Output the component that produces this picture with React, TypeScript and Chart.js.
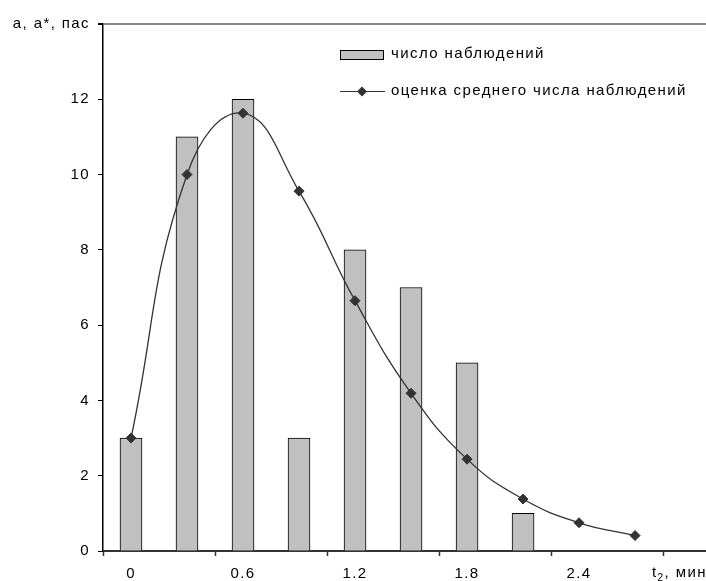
import React, { useEffect, useRef } from 'react';
import { Chart, registerables } from 'chart.js';

Chart.register(...registerables);

const categories = [0, 0.3, 0.6, 0.9, 1.2, 1.5, 1.8, 2.1, 2.4, 2.7];
const observedCounts: (number | null)[] = [3, 11, 12, 3, 8, 7, 5, 1, null, null];
const estimatedMean = [3.0, 10.0, 11.63, 9.56, 6.65, 4.19, 2.44, 1.38, 0.75, 0.41];

const xLabelValues = [0, 0.6, 1.2, 1.8, 2.4];
const xLabelTexts = ['0', '0.6', '1.2', '1.8', '2.4'];
const xDividerValues = [-0.15, 0.45, 1.05, 1.65, 2.25, 2.85];
const yTickValues = [0, 2, 4, 6, 8, 10, 12, 14];

const yAxisTitle = 'а, а*, пас';
const xAxisTitleMain = 't';
const xAxisTitleSub = '2';
const xAxisTitleRest = ', мин';
const legendLabels = ['число наблюдений', 'оценка среднего числа наблюдений'];

const FONT = '"Liberation Sans", Arial, sans-serif';
const SPACING = '1.4px';
const near = (a: number, b: number) => Math.abs(a - b) < 1e-6;

export default function App() {
  const canvasRef = useRef<HTMLCanvasElement | null>(null);

  useEffect(() => {
    const canvas = canvasRef.current;
    if (!canvas) return;

    const overlay = {
      id: 'overlay',
      beforeDraw(chart: any) {
        (chart.ctx as any).letterSpacing = SPACING;
      },
      afterDraw(chart: any) {
        const ctx = chart.ctx as CanvasRenderingContext2D;
        ctx.save();
        (ctx as any).letterSpacing = SPACING;
        // legend
        ctx.fillStyle = '#c0c0c0';
        ctx.fillRect(340.5, 50.5, 43, 9);
        ctx.strokeStyle = '#000';
        ctx.lineWidth = 1;
        ctx.strokeRect(340.5, 50.5, 43, 9);
        ctx.font = '15px ' + FONT;
        ctx.fillStyle = '#000';
        ctx.textBaseline = 'middle';
        ctx.textAlign = 'left';
        ctx.fillText(legendLabels[0], 391, 54);
        ctx.strokeStyle = '#333';
        ctx.beginPath();
        ctx.moveTo(340, 91.5);
        ctx.lineTo(385, 91.5);
        ctx.stroke();
        ctx.fillStyle = '#333';
        ctx.beginPath();
        ctx.moveTo(362, 86.5);
        ctx.lineTo(367, 91.5);
        ctx.lineTo(362, 96.5);
        ctx.lineTo(357, 91.5);
        ctx.closePath();
        ctx.fill();
        ctx.fillStyle = '#000';
        ctx.fillText(legendLabels[1], 391, 91);
        // x axis title
        ctx.textBaseline = 'alphabetic';
        let x = 652;
        ctx.font = '15px ' + FONT;
        ctx.fillText(xAxisTitleMain, x, 577);
        x += ctx.measureText(xAxisTitleMain).width;
        ctx.font = '10px ' + FONT;
        ctx.fillText(xAxisTitleSub, x, 581);
        x += ctx.measureText(xAxisTitleSub).width;
        ctx.font = '15px ' + FONT;
        ctx.fillText(xAxisTitleRest, x, 577);
        ctx.restore();
      },
    };

    const barData = categories
      .map((c, i) => ({ x: c, y: observedCounts[i] }))
      .filter((p) => p.y !== null);
    const lineData = categories.map((c, i) => ({ x: c, y: estimatedMean[i] }));

    const chart = new Chart(canvas, {
      type: 'bar',
      data: {
        datasets: [
          {
            type: 'line',
            label: legendLabels[1],
            data: lineData,
            borderColor: '#333',
            borderWidth: 1.3,
            backgroundColor: '#333',
            pointStyle: 'rectRot',
            pointRadius: 5,
            pointBackgroundColor: '#333',
            pointBorderColor: '#333',
            pointBorderWidth: 1,
            tension: 0.45,
            fill: false,
            order: 0,
          } as any,
          {
            type: 'bar',
            label: legendLabels[0],
            data: barData as any,
            backgroundColor: '#c0c0c0',
            borderColor: '#000',
            borderWidth: 1,
            barThickness: 22,
            order: 1,
          } as any,
        ],
      },
      options: {
        responsive: false,
        animation: false,
        layout: { autoPadding: false, padding: { top: 24, right: 0, left: 0, bottom: 0 } },
        plugins: {
          legend: { display: false },
          tooltip: { enabled: false },
        },
        scales: {
          x: {
            type: 'linear',
            min: -0.15,
            max: 3.08,
            offset: false,
            afterBuildTicks: (axis: any) => {
              axis.ticks = [...xDividerValues, ...xLabelValues]
                .sort((a, b) => a - b)
                .map((v) => ({ value: v }));
            },
            afterFit: (axis: any) => {
              axis.height = 30;
              axis.paddingRight = 0;
              axis.paddingLeft = 0;
            },
            ticks: {
              autoSkip: false,
              maxRotation: 0,
              padding: 9,
              color: '#000',
              font: { family: FONT, size: 15 },
              callback: (value: any) => {
                const i = xLabelValues.findIndex((v) => near(v, Number(value)));
                return i >= 0 ? xLabelTexts[i] : '';
              },
            },
            grid: {
              offset: false,
              drawOnChartArea: false,
              drawTicks: true,
              tickLength: 5,
              tickWidth: 1.5,
              tickColor: (c: any) =>
                c.tick && xDividerValues.some((v) => near(v, c.tick.value)) ? '#333' : 'rgba(0,0,0,0)',
            },
            border: { display: true, color: '#333', width: 2 },
          },
          y: {
            type: 'linear',
            min: 0,
            max: 14,
            afterBuildTicks: (axis: any) => {
              axis.ticks = yTickValues.map((v) => ({ value: v }));
            },
            afterFit: (axis: any) => {
              axis.width = 103;
            },
            ticks: {
              padding: 8,
              color: '#000',
              font: { family: FONT, size: 15 },
              callback: (value: any) => (Number(value) === 14 ? yAxisTitle : String(value)),
            },
            grid: {
              drawOnChartArea: true,
              drawTicks: true,
              tickLength: 5,
              tickColor: '#000',
              color: (c: any) => (c.tick && c.tick.value === 14 ? '#888' : 'rgba(0,0,0,0)'),
              lineWidth: (c: any) => (c.tick && c.tick.value === 14 ? 2 : 1),
            },
            border: { display: true, color: '#000', width: 1.5 },
          },
        },
      },
      plugins: [overlay],
    });

    return () => chart.destroy();
  }, []);

  return (
    <div style={{ position: 'fixed', left: 0, top: 0, width: 706, height: 581, background: '#fff' }}>
      <canvas ref={canvasRef} width={706} height={581} style={{ display: 'block' }} />
    </div>
  );
}
